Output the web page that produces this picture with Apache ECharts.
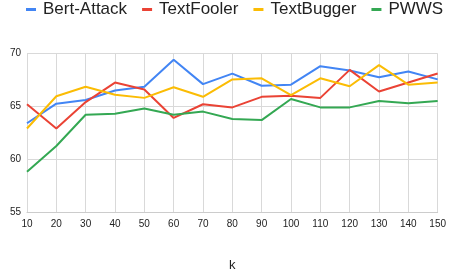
<!DOCTYPE html>
<html>
<head>
<meta charset="utf-8">
<script src="https://cdn.jsdelivr.net/npm/echarts@6/dist/echarts.min.js"></script>
<style>
html, body { margin: 0; padding: 0; background: #fff; }
#main { width: 449px; height: 277px; }
</style>
</head>
<body>
<div id="main"></div>
<script>
// data
const kValues = ['10', '20', '30', '40', '50', '60', '70', '80', '90', '100', '110', '120', '130', '140', '150'];
const bertAttack = [63.4, 65.25, 65.6, 66.5, 66.85, 69.4, 67.1, 68.1, 66.95, 67.05, 68.8, 68.4, 67.75, 68.3, 67.55];
const textFooler = [65.2, 62.9, 65.4, 67.25, 66.6, 63.9, 65.2, 64.9, 65.9, 66.0, 65.8, 68.45, 66.4, 67.25, 68.1];
const textBugger = [62.9, 65.95, 66.85, 66.1, 65.8, 66.8, 65.9, 67.55, 67.65, 66.05, 67.65, 66.9, 68.9, 67.05, 67.25];
const pwws = [58.8, 61.25, 64.2, 64.3, 64.8, 64.2, 64.5, 63.8, 63.7, 65.7, 64.9, 64.9, 65.5, 65.3, 65.5];
const yTicks = { min: 55, max: 70, step: 5 };

var myChart = echarts.init(document.getElementById('main'));

function line(name, data, color) {
  return {
    name: name,
    type: 'line',
    data: data,
    showSymbol: false,
    symbol: 'none',
    lineStyle: { width: 2, color: color },
    itemStyle: { color: color }
  };
}

option = {
  animation: false,
  legend: {
    left: 26,
    top: 1,
    padding: 0,
    icon: 'rect',
    itemWidth: 10,
    itemHeight: 3,
    itemGap: 15,
    textStyle: { fontFamily: 'Liberation Sans', fontSize: 17, color: '#222', padding: [0, 0, 0, 2] }
  },
  grid: { left: 27, right: 10, top: 53.5, bottom: 60 },
  xAxis: {
    type: 'category',
    data: kValues,
    boundaryGap: false,
    name: 'k',
    nameLocation: 'middle',
    nameGap: 47,
    nameTextStyle: { fontFamily: 'Liberation Sans', fontSize: 13, color: '#222' },
    axisLine: { lineStyle: { color: '#ccc' } },
    axisTick: { show: false },
    axisLabel: { fontFamily: 'Liberation Sans', fontSize: 10, color: '#222', margin: 7, interval: 0 },
    splitLine: { show: true, interval: 0, lineStyle: { color: '#d9d9d9', width: 1 } }
  },
  yAxis: {
    type: 'value',
    min: yTicks.min,
    max: yTicks.max,
    interval: yTicks.step,
    axisLine: { show: false },
    axisTick: { show: false },
    axisLabel: { fontFamily: 'Liberation Sans', fontSize: 10, color: '#222', margin: 6 },
    splitLine: { lineStyle: { color: '#d9d9d9', width: 1 } }
  },
  series: [
    line('Bert-Attack', bertAttack, '#4285f4'),
    line('TextFooler', textFooler, '#ea4335'),
    line('TextBugger', textBugger, '#fbbc04'),
    line('PWWS', pwws, '#34a853')
  ]
};
myChart.setOption(option);
</script>
</body>
</html>
